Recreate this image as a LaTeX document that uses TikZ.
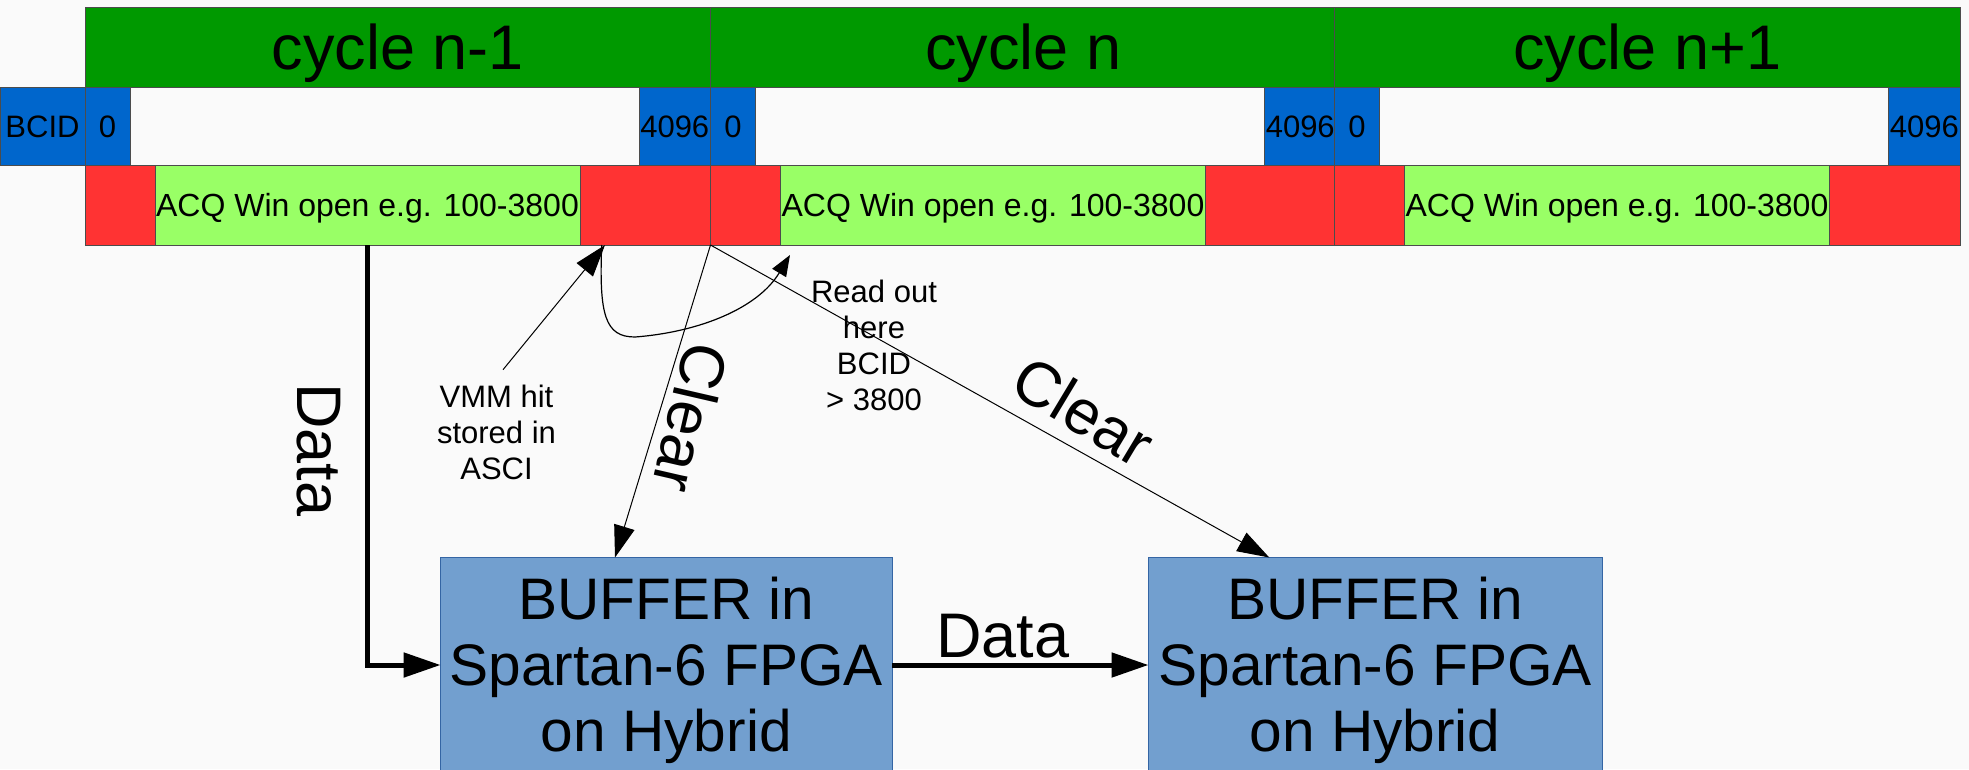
\documentclass[tikz,border=0pt]{standalone}
\usepackage{fontspec}
\setmainfont{Liberation Sans}
\usetikzlibrary{arrows.meta,calc}
\definecolor{bg}{HTML}{FAFAFA}
\definecolor{cycgreen}{HTML}{009900}
\definecolor{bcidblue}{HTML}{0066CC}
\definecolor{redc}{HTML}{FF3333}
\definecolor{acqgreen}{HTML}{99FF66}
\definecolor{bufblue}{HTML}{729FCF}
\definecolor{bufborder}{HTML}{3465A4}
\begin{document}
\begin{tikzpicture}[x=1pt,y=-1pt,
  base/.style={draw=black!70, line width=0.8pt, inner sep=0pt, outer sep=0pt, anchor=north west},
  cyc/.style={base, fill=cycgreen, minimum height=79.5pt, text height=57pt, text depth=13.4pt,
    font=\fontsize{63}{72}\selectfont},
  bluebox/.style={base, fill=bcidblue, minimum height=78.7pt, text height=28.1pt, text depth=6.6pt,
    font=\fontsize{31}{36}\selectfont},
  redbox/.style={base, fill=redc, minimum height=79.3pt},
  acqbox/.style={base, fill=acqgreen, minimum height=79.3pt, text height=29pt, text depth=6.8pt,
    font=\fontsize{32}{37}\selectfont},
  bufbox/.style={draw=bufborder, line width=1pt, fill=bufblue, inner sep=0pt, outer sep=0pt},
  buftext/.style={inner sep=0pt, align=center, font=\fontsize{58.6}{66}\selectfont},
  bigtxt/.style={inner sep=0pt, font=\fontsize{63}{72}\selectfont},
  smalltxt/.style={inner sep=0pt, align=center, font=\fontsize{31}{36}\selectfont},
  thickarrow/.style={line width=5pt, -{Triangle[length=37pt,width=24pt]}},
  thinarrow/.style={line width=1pt, -{Triangle[length=32pt,width=21pt]}},
  curvearrow/.style={line width=1.2pt, -{Triangle[length=21pt,width=16pt]}}
]
\path[use as bounding box, fill=bg] (0,0) rectangle (1969,769);
\clip (0,0) rectangle (1969,769);

% row labels
\node[bluebox, minimum width=85pt] (bcid) at (0,87) {BCID};

\foreach \i/\s/\lab in {1/85/{cycle n-1},2/710.5/{cycle n},3/1334.5/{cycle n+1}} {
  \node[cyc, minimum width=625.5pt] (cyc\i) at (\s,7.5) {\lab};
  \node[bluebox, minimum width=45pt] (zero\i) at (\s,87) {0};
  \node[bluebox, minimum width=71.5pt, anchor=north east] (end\i) at (\s+625.5,87) {4096};
  \node[redbox, minimum width=70pt] (redA\i) at (\s,165.7) {};
  \node[acqbox, minimum width=425pt] (acq\i) at (\s+70,165.7) {ACQ Win open e.g. 100-3800};
  \node[redbox, minimum width=130.5pt] (redB\i) at (\s+495,165.7) {};
}

% buffers
\node[bufbox, minimum width=451.4pt, minimum height=215pt] (buf1) at (666.3,665) {};
\node[buftext] (buf1t) at ([yshift=-5pt]buf1.center) {BUFFER in\\Spartan-6 FPGA\\on Hybrid};
\node[bufbox, minimum width=453.5pt, minimum height=215pt] (buf2) at (1375.25,665) {};
\node[buftext] (buf2t) at ([yshift=-5pt]buf2.center) {BUFFER in\\Spartan-6 FPGA\\on Hybrid};

% texts
\node[smalltxt] (vmm) at (496.5,432.7) {VMM hit\\stored in\\ASCI};
\node[smalltxt] (rd) at (874,345.7) {Read out\\here\\BCID\\> 3800};
\node[bigtxt, rotate=-90] (dlab1) at (319,450) {Data};
\node[bigtxt] (dlab2) at (1003,636.5) {Data};
\node[bigtxt, rotate=-103] (clr1) at (691,418) {Clear};
\node[bigtxt, rotate=-31] (clr2) at (1084,411) {Clear};

% connectors
\draw[thickarrow] ([xshift=212pt]acq1.south west) |- (buf1.west);
\draw[thickarrow] (buf1.east) -- (buf2.west);
\draw[thinarrow] (redB1.south east) -- ([xshift=-51.3pt]buf1.north);
\draw[thinarrow] (redB1.south east) -- ([xshift=-106pt]buf2.north);
\draw[thinarrow] ([shift={(6.5,-15.4)}]vmm.north) -- ([xshift=25pt]redB1.south west);
\coordinate (rdtip) at (790,255);
\draw[curvearrow] ([xshift=21.7pt]redB1.south west) .. controls (599,315) and (605,337) .. (635,337)
  .. controls (700,332) and (758,308) .. (rdtip);
\end{tikzpicture}
\end{document}
